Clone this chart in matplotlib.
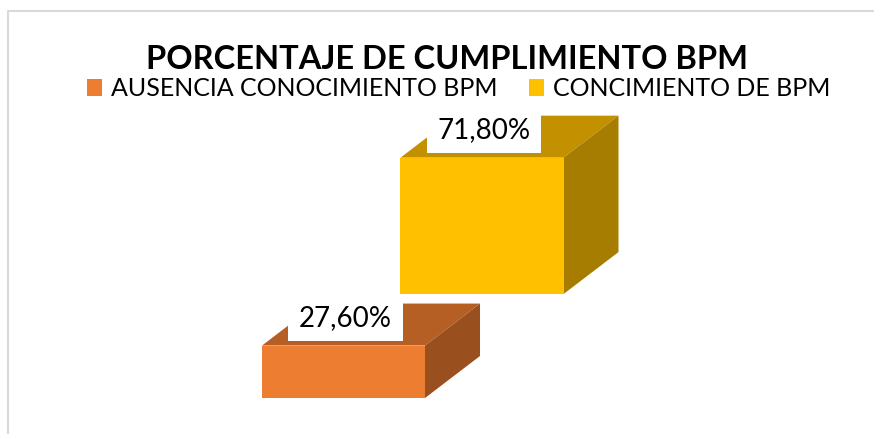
import matplotlib
matplotlib.use("Agg")
import matplotlib.pyplot as plt
from matplotlib.patches import Polygon, Patch
from matplotlib.lines import Line2D

# Data
categories = ["AUSENCIA CONOCIMIENTO BPM", "CONCIMIENTO DE BPM"]
values = [27.6, 71.8]
value_labels = ["27,60%", "71,80%"]
title = "PORCENTAJE DE CUMPLIMIENTO BPM"

# Colours: front, top, side faces
front_colors = ["#ED7D31", "#FFC000"]
top_colors = ["#B65F25", "#C39100"]
side_colors = ["#9A4F1E", "#A67D00"]

W, H, DPI = 874, 434, 100
fig = plt.figure(figsize=(W / DPI, H / DPI), dpi=DPI)
fig.patch.set_facecolor("white")

# Layout of the pseudo-3D plot area
px_per_unit_y = 1.9          # pixels per percentage point
px_per_unit_x = 138.5        # pixels per category step
x0_px, y0_px = 343.5, 36.0   # pixel position of first category / floor (from bottom)
ax = fig.add_axes([0, 0, 1, 1])
ax.set_xlim(-x0_px / px_per_unit_x, (W - x0_px) / px_per_unit_x)
ax.set_ylim(-y0_px / px_per_unit_y, (H - y0_px) / px_per_unit_y)
ax.axis("off")

positions = [0, 1]
bar_width = 1.177
floors = [0.0, 54.7]          # floor height of each box in the 3D layout
depth_dx = 55 / px_per_unit_x
depth_dy = 42 / px_per_unit_y

# draw the back box first, then the front one
for i in [1, 0]:
    x, v, b = positions[i], values[i], floors[i]
    left, right = x - bar_width / 2, x + bar_width / 2
    top = b + v
    ax.bar(x, v, width=bar_width, bottom=b, color=front_colors[i],
           edgecolor="none", zorder=2)
    ax.add_patch(Polygon([(left, top), (right, top),
                          (right + depth_dx, top + depth_dy),
                          (left + depth_dx, top + depth_dy)],
                         closed=True, facecolor=top_colors[i],
                         edgecolor="none", zorder=1))
    ax.add_patch(Polygon([(right, b), (right + depth_dx, b + depth_dy),
                          (right + depth_dx, top + depth_dy), (right, top)],
                         closed=True, facecolor=side_colors[i],
                         edgecolor="none", zorder=1))

# value labels on white boxes
label_font = "Lato"
for i in range(len(values)):
    top = floors[i] + values[i]
    ax.text(positions[i] + 2 / px_per_unit_x, top + 20 / px_per_unit_y,
            value_labels[i], ha="center", va="baseline",
            fontsize=20, family=label_font, color="black", zorder=5,
            bbox=dict(boxstyle="square,pad=0.38", fc="white", ec="none"))

# title
fig.text(447.5 / W, 1 - 69 / H, title, ha="center", va="baseline",
         fontsize=23.5, fontweight="bold", family=label_font, color="black")

# legend
handles = [Patch(facecolor=c, edgecolor="none") for c in front_colors]
fs = 18
fs_px = fs * DPI / 72
fig.legend(handles, categories, loc="center", ncol=2,
           bbox_to_anchor=(458.5 / W, 1 - 89 / H), frameon=False,
           prop={"family": label_font, "size": fs},
           handlelength=15 / fs_px, handleheight=17 / fs_px,
           handletextpad=9 / fs_px, columnspacing=31 / fs_px,
           borderpad=0, borderaxespad=0)

# chart border
fig.add_artist(Line2D([8 / W, 8 / W, 1.0], [0.0, 1 - 11 / H, 1 - 11 / H],
                      transform=fig.transFigure, color="#D9D9D9", lw=1.5))

fig.savefig("out.png", dpi=DPI, facecolor="white")
